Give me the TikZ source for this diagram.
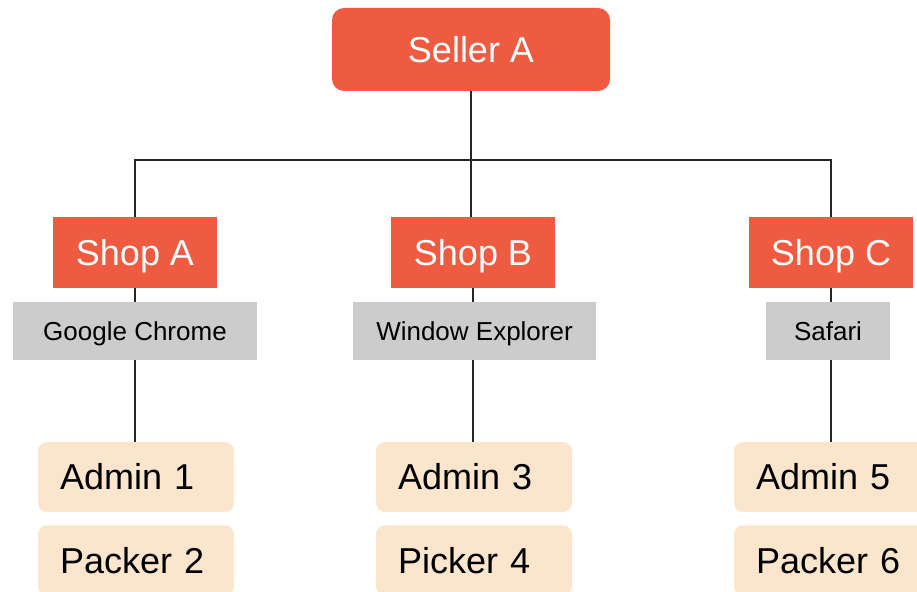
\documentclass[tikz,border=0pt]{standalone}
\usepackage{fontspec}
\setmainfont{Liberation Sans}
\usetikzlibrary{positioning}

\definecolor{shopred}{RGB}{239,91,64}
\definecolor{browsergray}{RGB}{204,204,204}
\definecolor{staffpeach}{RGB}{252,229,205}

\begin{document}
\begin{tikzpicture}[x=1pt,y=-1pt,
        seller/.style={fill=shopred,text=white,rounded corners=12pt,
            minimum width=278pt,minimum height=83pt,inner sep=0pt,
            text height=25.8pt,text depth=0pt,
            font=\fontsize{36}{40}\selectfont},
        shop/.style={fill=shopred,text=white,
            minimum width=164pt,minimum height=71pt,inner sep=0pt,
            text height=25.8pt,text depth=0pt,
            font=\fontsize{36}{40}\selectfont},
        browser/.style={fill=browsergray,text=black,
            minimum height=58pt,inner sep=0pt,
            text height=18.6pt,text depth=0pt,
            font=\fontsize{26}{30}\selectfont},
        staff/.style={fill=staffpeach,text=black,rounded corners=9pt,
            minimum width=196pt,minimum height=70pt,inner xsep=22pt,inner ysep=0pt,
            text width=152pt,align=left,
            text height=25.8pt,text depth=0pt,
            font=\fontsize{36}{40}\selectfont},
        link/.style={line width=1.3pt,draw=black!85}]%
    \useasboundingbox (0,0) rectangle (917,591);
    \clip (0,0) rectangle (917,591);
    % top
    \node[seller] (seller) at (471,49.5) {Seller A};
    \coordinate (bar) at (471,160);
    % shops
    \node[shop] (shopA) at (135,252.5) {Shop A};
    \node[shop] (shopB) at (473,252.5) {Shop B};
    \node[shop] (shopC) at (831,252.5) {Shop C};
    % browsers
    \node[browser,minimum width=244pt] (chrome) at (135,331) {Google Chrome};
    \node[browser,minimum width=243pt] (explorer) at (474.5,331) {Window Explorer};
    \node[browser,minimum width=124pt] (safari) at (828,331) {Safari};
    % staff
    \node[staff] (admin1) at (136,477) {Admin 1};
    \node[staff,below=13pt of admin1] (packer2) {Packer 2};
    \node[staff] (admin3) at (474,477) {Admin 3};
    \node[staff,below=13pt of admin3] (picker4) {Picker 4};
    \node[staff] (admin5) at (832,477) {Admin 5};
    \node[staff,below=13pt of admin5] (packer6) {Packer 6};
    % links
    \draw[link] (seller.south) -- (seller.south |- shopB.north);
    \draw[link] (shopA.north) |- (bar) -| (shopC.north);
    \draw[link] (shopA.south) -- (shopA.south |- chrome.north);
    \draw[link] (shopB.south) -- (shopB.south |- explorer.north);
    \draw[link] (shopC.south) -- (shopC.south |- safari.north);
    \draw[link] (chrome.south) -- (chrome.south |- admin1.north);
    \draw[link] (shopB.south |- explorer.south) -- (shopB.south |- admin3.north);
    \draw[link] (shopC.south |- safari.south) -- (shopC.south |- admin5.north);
\end{tikzpicture}
\end{document}
